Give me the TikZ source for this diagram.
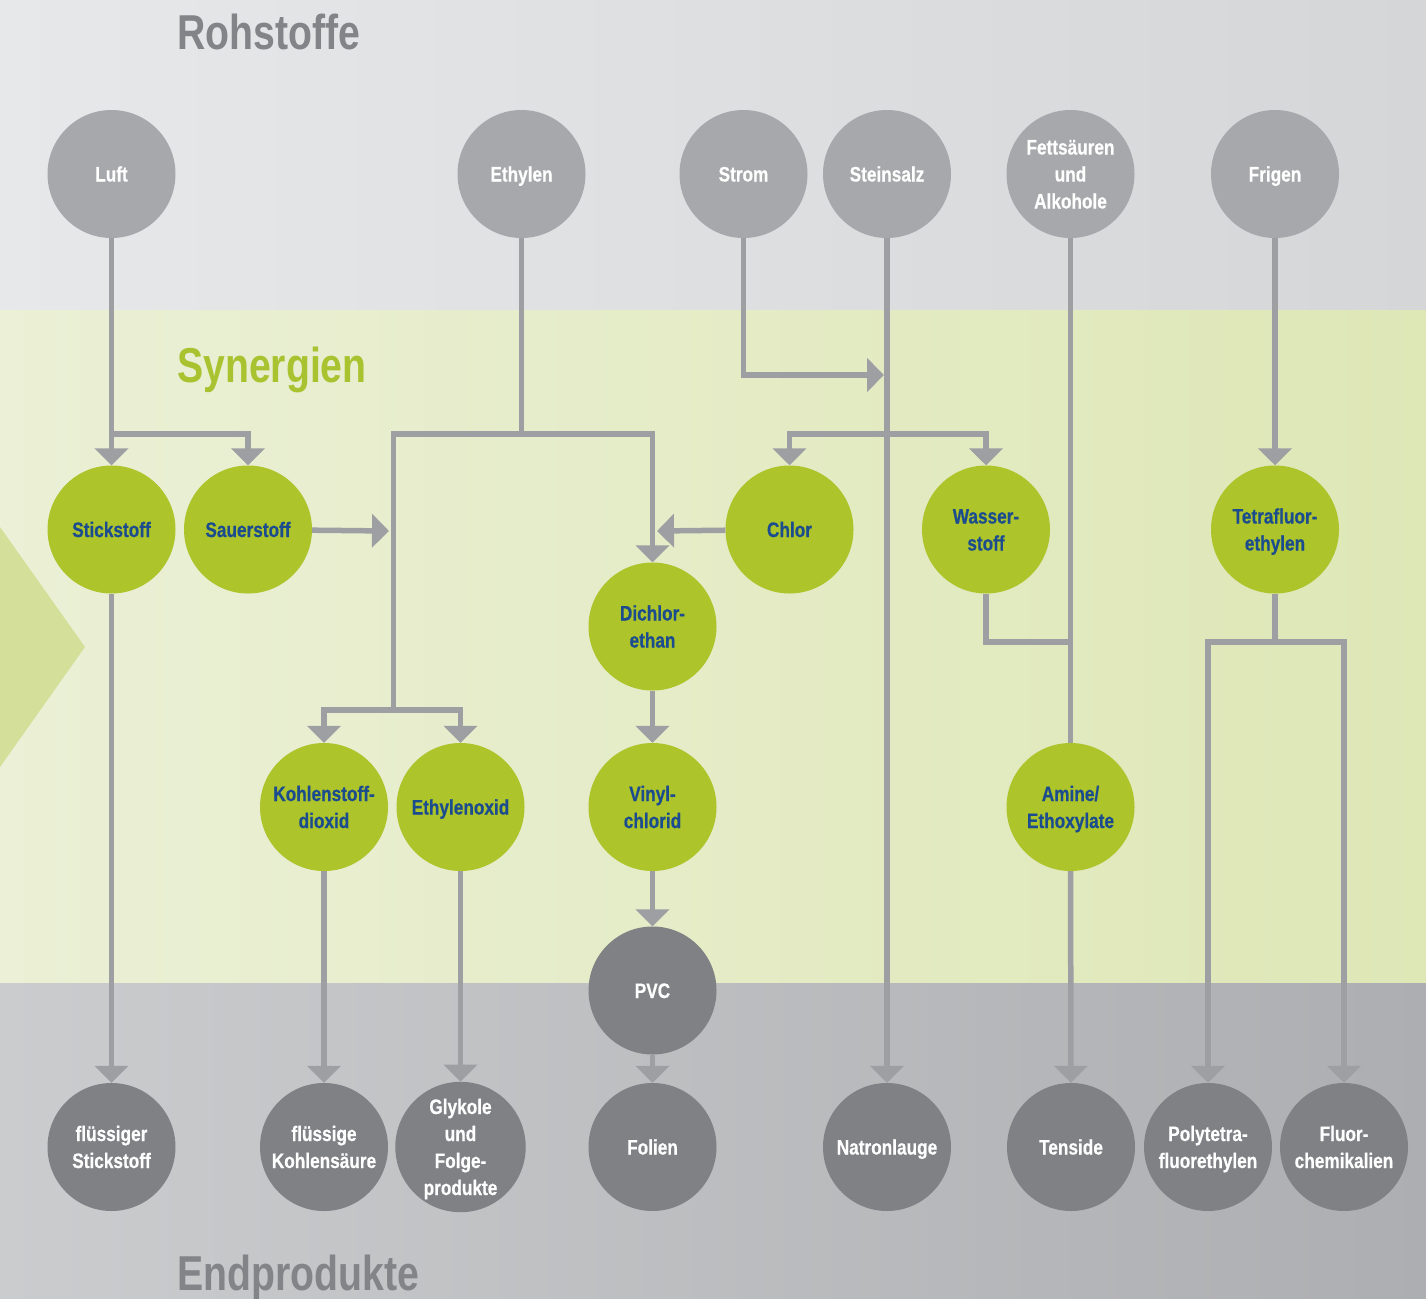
\documentclass[tikz,border=0pt]{standalone}
\usepackage{fontspec}
\setmainfont{Liberation Sans}
\newfontfamily\nodefont{Liberation Sans}[FakeStretch=0.82, BoldFeatures={FakeBold=0.5}]
\newfontfamily\titlefont{Liberation Sans}[FakeStretch=0.8]
\usetikzlibrary{arrows.meta}
\newcommand\lnst{\rule[-6pt]{0pt}{27pt}}
\definecolor{topL}{HTML}{E7E8EA}
\definecolor{topR}{HTML}{D5D6D8}
\definecolor{midL}{HTML}{EBF0D6}
\definecolor{midR}{HTML}{DEE7B6}
\definecolor{botL}{HTML}{CBCCCE}
\definecolor{botR}{HTML}{ADAEB1}
\definecolor{chevC}{HTML}{D4DF9A}
\definecolor{rawC}{HTML}{A7A8AB}
\definecolor{synC}{HTML}{ADC42B}
\definecolor{endC}{HTML}{808185}
\definecolor{blueT}{HTML}{1B4C8E}
\definecolor{lineC}{HTML}{9E9FA3}
\definecolor{greyT}{HTML}{838488}
\definecolor{greenT}{HTML}{A8C230}
\tikzset{
  circ/.style={circle, minimum size=128pt, inner sep=0pt, align=center,
    font=\nodefont\bfseries\fontsize{21}{27}\selectfont},
  rawnode/.style={circ, fill=rawC, text=white},
  synnode/.style={circ, fill=synC, text=blueT},
  endnode/.style={circ, fill=endC, text=white},
  ln/.style={draw=lineC, line width=5.5pt},
  arr/.style={ln, -{Triangle[length=17pt,width=33pt]}},
  title/.style={anchor=base west, inner sep=0pt,
    font=\titlefont\bfseries\fontsize{49}{55}\selectfont}
}
\begin{document}
\begin{tikzpicture}[x=1pt,y=-1pt]
\useasboundingbox (0,0) rectangle (1426,1298);
% background bands
\shade[left color=topL, right color=topR] (0,0) rectangle (1426,310);
\shade[left color=midL, right color=midR] (0,310) rectangle (1426,983);
\shade[left color=botL, right color=botR] (0,983) rectangle (1426,1298);
\fill[chevC] (0,527) -- (85,647) -- (0,767) -- cycle;
% titles
\node[title, text=greyT] (tRoh) at (177,50) {Rohstoffe};
\node[title, text=greenT] (tSyn) at (177,382) {Synergien};
\node[title, text=greyT] (tEnd) at (177,1290) {Endprodukte};
% raw materials
\node[rawnode] (luft) at (111.5,174) {\lnst Luft};
\node[rawnode] (ethyl) at (521.5,174) {\lnst Ethylen};
\node[rawnode] (strom) at (743.5,174) {\lnst Strom};
\node[rawnode] (stein) at (887,174) {\lnst Steinsalz};
\node[rawnode] (fett) at (1070.5,174) {\lnst Fettsäuren\\\lnst und\\\lnst Alkohole};
\node[rawnode] (frigen) at (1275,174) {\lnst Frigen};
% synergies
\node[synnode] (stick) at (111.5,529.5) {\lnst Stickstoff};
\node[synnode] (sauer) at (248,529.5) {\lnst Sauerstoff};
\node[synnode] (chlor) at (789.5,529.5) {\lnst Chlor};
\node[synnode] (wasser) at (986,529.5) {\lnst Wasser-\\\lnst stoff};
\node[synnode] (tetra) at (1275,529.5) {\lnst Tetrafluor-\\\lnst ethylen};
\node[synnode] (dichl) at (652.5,626.5) {\lnst Dichlor-\\\lnst ethan};
\node[synnode] (kohl) at (324,807) {\lnst Kohlenstoff-\\\lnst dioxid};
\node[synnode] (ethox) at (460.5,807) {\lnst Ethylenoxid};
\node[synnode] (vinyl) at (652.5,807) {\lnst Vinyl-\\\lnst chlorid};
\node[synnode] (amine) at (1070.5,807) {\lnst Amine/\\\lnst Ethoxylate};
% end products
\node[endnode] (pvc) at (652.5,990.5) {\lnst PVC};
\node[endnode] (flst) at (111.5,1147) {\lnst flüssiger\\\lnst Stickstoff};
\node[endnode] (flks) at (324,1147) {\lnst flüssige\\\lnst Kohlensäure};
\node[endnode] (glyk) at (460.5,1147) {\lnst Glykole\\\lnst und\\\lnst Folge-\\\lnst produkte};
\node[endnode] (folien) at (652.5,1147) {\lnst Folien};
\node[endnode] (natron) at (887,1147) {\lnst Natronlauge};
\node[endnode] (tenside) at (1071,1147) {\lnst Tenside};
\node[endnode] (ptfe) at (1208,1147) {\lnst Polytetra-\\\lnst fluorethylen};
\node[endnode] (fluor) at (1344,1147) {\lnst Fluor-\\\lnst chemikalien};
% junction coordinates
\coordinate (jL) at (111.5,434);
\coordinate (jO) at (389,531);
\coordinate (jE) at (521.5,434);
\coordinate (jEL) at (393.5,434);
\coordinate (jEB) at (393.5,710);
\coordinate (jCl) at (657,531);
\coordinate (jS) at (884,375);
\coordinate (jSt) at (887,434);
\coordinate (jF) at (1070.5,642);
\coordinate (jT) at (1275,642);
% connectors
\draw[arr] (luft) -- (stick);
\draw[arr] (jL) -| (sauer);
\draw[arr] (stick) -- (flst);
\draw[arr] (sauer) -- (jO);
\draw[ln] (ethyl) -- (jE);
\draw[arr] (jE) -| (dichl);
\draw[ln] (jE) -- (jEL) -- (jEB);
\draw[arr] (jEB) -| (kohl);
\draw[arr] (jEB) -| (ethox);
\draw[arr] (chlor) -- (jCl);
\draw[arr] (strom) |- (jS);
\draw[arr] (stein) -- (natron);
\draw[arr] (jSt) -| (chlor);
\draw[arr] (jSt) -| (wasser);
\draw[ln] (fett) -- (amine);
\draw[ln] (wasser) |- (jF);
\draw[arr] (amine) -- (tenside);
\draw[arr] (frigen) -- (tetra);
\draw[ln] (tetra) -- (jT);
\draw[arr] (jT) -| (ptfe);
\draw[arr] (jT) -| (fluor);
\draw[arr] (dichl) -- (vinyl);
\draw[arr] (vinyl) -- (pvc);
\draw[arr] (pvc) -- (folien);
\draw[arr] (kohl) -- (flks);
\draw[arr] (ethox) -- (glyk);
\end{tikzpicture}
\end{document}
